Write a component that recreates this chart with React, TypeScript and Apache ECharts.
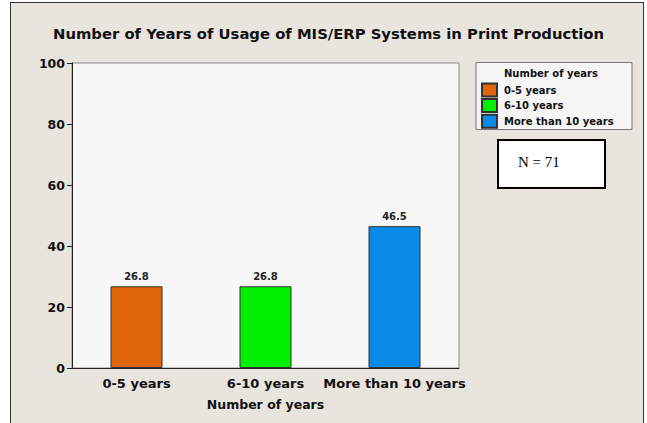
import React, { useEffect, useRef } from "react";
import * as echarts from "echarts";

const categories = ["0-5 years", "6-10 years", "More than 10 years"];
const percentages = [26.8, 26.8, 46.5];
const barColors = ["#E0640A", "#00F000", "#0A8AE8"];
const yTicks = { min: 0, max: 100, interval: 20 };
const sampleSize = 71;

const FONT = "DejaVu Sans";

export default function App() {
  const ref = useRef<HTMLDivElement>(null);

  useEffect(() => {
    if (!ref.current) return;
    const chart = echarts.init(ref.current, undefined, { renderer: "svg" });

    // One series per category so each gets its own legend entry; bars overlap in place.
    const series = categories.map((name, i) => ({
      name,
      type: "bar" as const,
      barWidth: 52,
      barGap: "-100%",
      data: categories.map((_, j) => (j === i ? percentages[i] : "-")),
      itemStyle: { color: barColors[i], borderColor: "#333", borderWidth: 1 },
      label: {
        show: true,
        position: "top" as const,
        distance: 5,
        fontFamily: FONT,
        fontWeight: "bold" as const,
        fontSize: 10,
        color: "#222",
        formatter: (p: any) => Number(p.value).toFixed(1),
      },
    }));

    chart.setOption({
      animation: false,
      backgroundColor: "transparent",
      title: {
        text: "Number of Years of Usage of MIS/ERP Systems in Print Production",
        left: 53,
        top: 26,
        padding: 0,
        textStyle: { fontFamily: FONT, fontWeight: "bold", fontSize: 14.8, color: "#111" },
      },
      grid: {
        left: 72,
        top: 63,
        right: 188,
        bottom: 55,
        show: true,
        backgroundColor: "#F7F7F7",
        borderColor: "#8A8A8A",
        borderWidth: 1,
      },
      legend: {
        orient: "vertical",
        left: 481,
        top: 82.5,
        padding: 0,
        itemWidth: 15,
        itemHeight: 13,
        itemGap: 0.6,
        icon: "rect",
        textStyle: {
          fontFamily: FONT,
          fontWeight: "bold",
          fontSize: 10,
          lineHeight: 13,
          color: "#111",
          padding: [0, 0, 0, 2],
        },
        data: categories,
      },
      xAxis: {
        type: "category",
        data: categories,
        axisLine: { lineStyle: { color: "#222", width: 1 } },
        axisTick: { alignWithLabel: true, length: 5, lineStyle: { color: "#222" } },
        axisLabel: {
          fontFamily: FONT,
          fontWeight: "bold",
          fontSize: 13,
          color: "#111",
          margin: 9,
          interval: 0,
        },
        name: "Number of years",
        nameLocation: "middle",
        nameGap: 30,
        nameTextStyle: { fontFamily: FONT, fontWeight: "bold", fontSize: 12.5, color: "#111" },
      },
      yAxis: {
        type: "value",
        min: yTicks.min,
        max: yTicks.max,
        interval: yTicks.interval,
        splitLine: { show: false },
        axisLine: { show: true, lineStyle: { color: "#222", width: 1 } },
        axisTick: { show: true, length: 5, lineStyle: { color: "#222" } },
        axisLabel: {
          fontFamily: FONT,
          fontWeight: "bold",
          fontSize: 12.5,
          color: "#111",
          margin: 7,
        },
      },
      graphic: [
        {
          type: "rect",
          z: -1,
          shape: { x: 476, y: 62.5, width: 156, height: 67 },
          style: { fill: "#F5F5F5", stroke: "#777", lineWidth: 1 },
        },
        {
          type: "text",
          x: 504,
          y: 73,
          style: {
            text: "Number of years",
            fontFamily: FONT,
            fontWeight: "bold",
            fontSize: 10,
            fill: "#111",
            verticalAlign: "middle",
          },
        },
        {
          type: "rect",
          shape: { x: 498, y: 140, width: 107, height: 48 },
          style: { fill: "#FFFFFF", stroke: "#000", lineWidth: 2 },
        },
        {
          type: "text",
          x: 518,
          y: 162,
          style: {
            text: `N = ${sampleSize}`,
            fontFamily: "Liberation Serif",
            fontSize: 15,
            fill: "#000",
            verticalAlign: "middle",
          },
        },
      ],
      series,
    });

    return () => chart.dispose();
  }, []);

  return (
    <div style={{ position: "fixed", left: 0, top: 0, width: 647, height: 423, background: "#FFFFFF" }}>
      <div
        style={{
          position: "absolute",
          left: 10,
          top: 2,
          width: 634,
          height: 440,
          background: "#E8E4DE",
          border: "1px solid #333",
          boxSizing: "border-box",
        }}
      />
      <div ref={ref} style={{ position: "absolute", left: 0, top: 0, width: 647, height: 423 }} />
    </div>
  );
}
